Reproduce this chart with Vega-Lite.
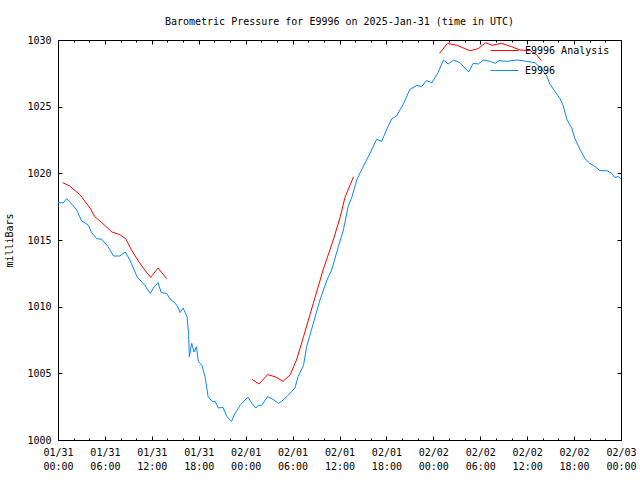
{
  "$schema": "https://vega.github.io/schema/vega-lite/v6.json",
  "width": 563,
  "height": 400,
  "autosize": {"type": "none"},
  "padding": {"left": 58, "top": 40, "right": 19, "bottom": 40},
  "background": "white",
  "config": {
    "font": "DejaVu Sans Mono",
    "view": {"stroke": "black", "strokeWidth": 1},
    "axis": {"labelFont": "DejaVu Sans Mono", "labelFontSize": 10, "labelColor": "black", "titleFont": "DejaVu Sans Mono", "titleFontSize": 10, "titleFontWeight": "normal", "titleColor": "black", "tickColor": "black", "tickWidth": 1, "domain": false, "grid": false, "zindex": 1}
  },
  "title": {"text": "Barometric Pressure for E9996 on 2025-Jan-31 (time in UTC)", "font": "DejaVu Sans Mono", "fontSize": 10, "fontWeight": "normal", "color": "black", "anchor": "middle", "offset": 8},
  "data": {"values": [
    {"h":0,"p":1017.8,"s":"E9996","g":1},
    {"h":0.3,"p":1017.8,"s":"E9996","g":1},
    {"h":0.7,"p":1017.8,"s":"E9996","g":1},
    {"h":1.1,"p":1018.1,"s":"E9996","g":1},
    {"h":1.75,"p":1017.7,"s":"E9996","g":1},
    {"h":2.4,"p":1017.25,"s":"E9996","g":1},
    {"h":3.0,"p":1016.45,"s":"E9996","g":1},
    {"h":3.9,"p":1016.1,"s":"E9996","g":1},
    {"h":4.3,"p":1015.55,"s":"E9996","g":1},
    {"h":4.95,"p":1015.1,"s":"E9996","g":1},
    {"h":5.6,"p":1015.05,"s":"E9996","g":1},
    {"h":6.4,"p":1014.5,"s":"E9996","g":1},
    {"h":7.1,"p":1013.8,"s":"E9996","g":1},
    {"h":7.9,"p":1013.8,"s":"E9996","g":1},
    {"h":8.6,"p":1014.1,"s":"E9996","g":1},
    {"h":9.2,"p":1013.5,"s":"E9996","g":1},
    {"h":10.1,"p":1012.25,"s":"E9996","g":1},
    {"h":11.1,"p":1011.6,"s":"E9996","g":1},
    {"h":11.8,"p":1011.0,"s":"E9996","g":1},
    {"h":12.2,"p":1011.4,"s":"E9996","g":1},
    {"h":12.8,"p":1011.8,"s":"E9996","g":1},
    {"h":13.2,"p":1011.05,"s":"E9996","g":1},
    {"h":13.9,"p":1011.0,"s":"E9996","g":1},
    {"h":14.3,"p":1010.6,"s":"E9996","g":1},
    {"h":15.0,"p":1010.25,"s":"E9996","g":1},
    {"h":15.4,"p":1009.9,"s":"E9996","g":1},
    {"h":15.6,"p":1009.55,"s":"E9996","g":1},
    {"h":16.0,"p":1009.9,"s":"E9996","g":1},
    {"h":16.5,"p":1009.25,"s":"E9996","g":1},
    {"h":16.7,"p":1008.0,"s":"E9996","g":1},
    {"h":16.8,"p":1006.25,"s":"E9996","g":1},
    {"h":17.1,"p":1007.25,"s":"E9996","g":1},
    {"h":17.4,"p":1006.6,"s":"E9996","g":1},
    {"h":17.7,"p":1007.0,"s":"E9996","g":1},
    {"h":17.95,"p":1005.9,"s":"E9996","g":1},
    {"h":18.4,"p":1005.6,"s":"E9996","g":1},
    {"h":18.8,"p":1004.75,"s":"E9996","g":1},
    {"h":19.2,"p":1003.25,"s":"E9996","g":1},
    {"h":19.7,"p":1002.9,"s":"E9996","g":1},
    {"h":20.1,"p":1002.9,"s":"E9996","g":1},
    {"h":20.5,"p":1002.4,"s":"E9996","g":1},
    {"h":21.1,"p":1002.45,"s":"E9996","g":1},
    {"h":21.6,"p":1001.75,"s":"E9996","g":1},
    {"h":22.2,"p":1001.4,"s":"E9996","g":1},
    {"h":22.6,"p":1001.95,"s":"E9996","g":1},
    {"h":23.3,"p":1002.6,"s":"E9996","g":1},
    {"h":23.9,"p":1003.0,"s":"E9996","g":1},
    {"h":24.3,"p":1003.2,"s":"E9996","g":1},
    {"h":24.8,"p":1002.75,"s":"E9996","g":1},
    {"h":25.3,"p":1002.4,"s":"E9996","g":1},
    {"h":25.6,"p":1002.6,"s":"E9996","g":1},
    {"h":26.05,"p":1002.6,"s":"E9996","g":1},
    {"h":26.8,"p":1003.25,"s":"E9996","g":1},
    {"h":27.5,"p":1003.05,"s":"E9996","g":1},
    {"h":28.2,"p":1002.75,"s":"E9996","g":1},
    {"h":28.6,"p":1002.9,"s":"E9996","g":1},
    {"h":29.25,"p":1003.25,"s":"E9996","g":1},
    {"h":29.9,"p":1003.65,"s":"E9996","g":1},
    {"h":30.3,"p":1003.9,"s":"E9996","g":1},
    {"h":30.7,"p":1004.75,"s":"E9996","g":1},
    {"h":31.4,"p":1005.6,"s":"E9996","g":1},
    {"h":31.8,"p":1007.0,"s":"E9996","g":1},
    {"h":32.65,"p":1008.75,"s":"E9996","g":1},
    {"h":33.5,"p":1010.5,"s":"E9996","g":1},
    {"h":34.4,"p":1012.0,"s":"E9996","g":1},
    {"h":35.0,"p":1012.75,"s":"E9996","g":1},
    {"h":35.85,"p":1014.5,"s":"E9996","g":1},
    {"h":36.5,"p":1015.75,"s":"E9996","g":1},
    {"h":37.1,"p":1017.5,"s":"E9996","g":1},
    {"h":37.6,"p":1018.25,"s":"E9996","g":1},
    {"h":38.2,"p":1019.5,"s":"E9996","g":1},
    {"h":38.6,"p":1020.0,"s":"E9996","g":1},
    {"h":39.9,"p":1021.5,"s":"E9996","g":1},
    {"h":40.75,"p":1022.55,"s":"E9996","g":1},
    {"h":41.4,"p":1022.4,"s":"E9996","g":1},
    {"h":42.0,"p":1023.25,"s":"E9996","g":1},
    {"h":42.7,"p":1024.1,"s":"E9996","g":1},
    {"h":43.3,"p":1024.3,"s":"E9996","g":1},
    {"h":44.2,"p":1025.25,"s":"E9996","g":1},
    {"h":45.0,"p":1026.3,"s":"E9996","g":1},
    {"h":45.9,"p":1026.6,"s":"E9996","g":1},
    {"h":46.5,"p":1026.5,"s":"E9996","g":1},
    {"h":47.1,"p":1026.95,"s":"E9996","g":1},
    {"h":47.8,"p":1026.8,"s":"E9996","g":1},
    {"h":48.6,"p":1027.55,"s":"E9996","g":1},
    {"h":49.3,"p":1028.5,"s":"E9996","g":1},
    {"h":49.9,"p":1028.2,"s":"E9996","g":1},
    {"h":50.6,"p":1028.5,"s":"E9996","g":1},
    {"h":51.4,"p":1028.3,"s":"E9996","g":1},
    {"h":52.5,"p":1027.6,"s":"E9996","g":1},
    {"h":53.1,"p":1028.25,"s":"E9996","g":1},
    {"h":53.75,"p":1028.2,"s":"E9996","g":1},
    {"h":54.4,"p":1028.5,"s":"E9996","g":1},
    {"h":55.25,"p":1028.4,"s":"E9996","g":1},
    {"h":55.9,"p":1028.25,"s":"E9996","g":1},
    {"h":56.4,"p":1028.45,"s":"E9996","g":1},
    {"h":57.4,"p":1028.4,"s":"E9996","g":1},
    {"h":58.7,"p":1028.5,"s":"E9996","g":1},
    {"h":59.9,"p":1028.4,"s":"E9996","g":1},
    {"h":61.0,"p":1028.3,"s":"E9996","g":1},
    {"h":61.9,"p":1027.8,"s":"E9996","g":1},
    {"h":62.5,"p":1027.3,"s":"E9996","g":1},
    {"h":62.9,"p":1026.7,"s":"E9996","g":1},
    {"h":63.6,"p":1026.1,"s":"E9996","g":1},
    {"h":64.2,"p":1025.6,"s":"E9996","g":1},
    {"h":64.6,"p":1025.1,"s":"E9996","g":1},
    {"h":65.1,"p":1024.0,"s":"E9996","g":1},
    {"h":65.7,"p":1023.4,"s":"E9996","g":1},
    {"h":66.1,"p":1022.6,"s":"E9996","g":1},
    {"h":66.8,"p":1021.75,"s":"E9996","g":1},
    {"h":67.4,"p":1021.1,"s":"E9996","g":1},
    {"h":68.0,"p":1020.75,"s":"E9996","g":1},
    {"h":68.7,"p":1020.5,"s":"E9996","g":1},
    {"h":69.3,"p":1020.2,"s":"E9996","g":1},
    {"h":70.2,"p":1020.2,"s":"E9996","g":1},
    {"h":70.8,"p":1020.0,"s":"E9996","g":1},
    {"h":71.2,"p":1019.7,"s":"E9996","g":1},
    {"h":71.7,"p":1019.75,"s":"E9996","g":1},
    {"h":72.0,"p":1019.6,"s":"E9996","g":1},
    {"h":0.6,"p":1019.3,"s":"E9996 Analysis","g":1},
    {"h":1.5,"p":1019.05,"s":"E9996 Analysis","g":1},
    {"h":2.2,"p":1018.7,"s":"E9996 Analysis","g":1},
    {"h":2.8,"p":1018.4,"s":"E9996 Analysis","g":1},
    {"h":3.45,"p":1017.9,"s":"E9996 Analysis","g":1},
    {"h":4.1,"p":1017.4,"s":"E9996 Analysis","g":1},
    {"h":4.7,"p":1016.75,"s":"E9996 Analysis","g":1},
    {"h":5.6,"p":1016.3,"s":"E9996 Analysis","g":1},
    {"h":6.9,"p":1015.6,"s":"E9996 Analysis","g":1},
    {"h":7.9,"p":1015.4,"s":"E9996 Analysis","g":1},
    {"h":8.65,"p":1015.1,"s":"E9996 Analysis","g":1},
    {"h":9.4,"p":1014.25,"s":"E9996 Analysis","g":1},
    {"h":10.3,"p":1013.4,"s":"E9996 Analysis","g":1},
    {"h":11.1,"p":1012.75,"s":"E9996 Analysis","g":1},
    {"h":11.85,"p":1012.2,"s":"E9996 Analysis","g":1},
    {"h":12.8,"p":1012.9,"s":"E9996 Analysis","g":1},
    {"h":13.9,"p":1012.1,"s":"E9996 Analysis","g":1},
    {"h":24.8,"p":1004.55,"s":"E9996 Analysis","g":2},
    {"h":25.7,"p":1004.2,"s":"E9996 Analysis","g":2},
    {"h":26.8,"p":1004.9,"s":"E9996 Analysis","g":2},
    {"h":27.75,"p":1004.75,"s":"E9996 Analysis","g":2},
    {"h":28.8,"p":1004.4,"s":"E9996 Analysis","g":2},
    {"h":29.7,"p":1004.9,"s":"E9996 Analysis","g":2},
    {"h":30.5,"p":1006.0,"s":"E9996 Analysis","g":2},
    {"h":31.4,"p":1007.75,"s":"E9996 Analysis","g":2},
    {"h":32.65,"p":1010.25,"s":"E9996 Analysis","g":2},
    {"h":33.9,"p":1012.75,"s":"E9996 Analysis","g":2},
    {"h":35.2,"p":1015.0,"s":"E9996 Analysis","g":2},
    {"h":36.1,"p":1016.75,"s":"E9996 Analysis","g":2},
    {"h":36.7,"p":1018.2,"s":"E9996 Analysis","g":2},
    {"h":37.8,"p":1019.75,"s":"E9996 Analysis","g":2},
    {"h":48.8,"p":1029.0,"s":"E9996 Analysis","g":3},
    {"h":49.8,"p":1029.75,"s":"E9996 Analysis","g":3},
    {"h":51.0,"p":1029.6,"s":"E9996 Analysis","g":3},
    {"h":52.7,"p":1029.2,"s":"E9996 Analysis","g":3},
    {"h":53.75,"p":1029.35,"s":"E9996 Analysis","g":3},
    {"h":54.7,"p":1029.8,"s":"E9996 Analysis","g":3},
    {"h":55.5,"p":1029.6,"s":"E9996 Analysis","g":3},
    {"h":56.7,"p":1029.75,"s":"E9996 Analysis","g":3},
    {"h":58.0,"p":1029.5,"s":"E9996 Analysis","g":3},
    {"h":59.1,"p":1029.25,"s":"E9996 Analysis","g":3},
    {"h":60.4,"p":1029.2,"s":"E9996 Analysis","g":3},
    {"h":61.2,"p":1028.9,"s":"E9996 Analysis","g":3},
    {"h":61.8,"p":1028.45,"s":"E9996 Analysis","g":3}
  ]},
  "layer": [
    {
      "mark": {"type": "line", "strokeWidth": 1},
      "encoding": {
        "x": {"field": "h", "type": "quantitative",
          "scale": {"domain": [0, 72], "nice": false, "zero": false},
          "axis": {"orient": "bottom", "title": null, "values": [0, 6, 12, 18, 24, 30, 36, 42, 48, 54, 60, 66, 72],
            "offset": -4, "tickSize": 4,
            "labelExpr": "[datum.value < 24 ? '01/31' : datum.value < 48 ? '02/01' : datum.value < 72 ? '02/02' : '02/03', (datum.value % 24 < 10 ? '0' : '') + (datum.value % 24) + ':00']",
            "labelPadding": 7, "labelOverlap": false, "labelFlush": false, "labelLineHeight": 14}},
        "y": {"field": "p", "type": "quantitative",
          "scale": {"domain": [1000, 1030], "nice": false, "zero": false},
          "axis": {"orient": "left", "title": "milliBars", "format": "d", "values": [1000, 1005, 1010, 1015, 1020, 1025, 1030], "offset": -4, "tickSize": 4, "labelPadding": 7, "titlePadding": 12}},
        "color": {"field": "s", "type": "nominal",
          "scale": {"domain": ["E9996 Analysis", "E9996"], "range": ["#ff0000", "#0a86ff"]},
          "legend": {"title": null, "orient": "none", "legendX": 432, "legendY": -4, "symbolType": "stroke", "symbolSize": 784, "symbolStrokeWidth": 1, "labelFont": "DejaVu Sans Mono", "labelFontSize": 10, "labelColor": "black", "rowPadding": -22, "labelOffset": 6, "padding": 0}},
        "detail": {"field": "g", "type": "nominal"}
      }
    },
    {
      "mark": {"type": "line", "opacity": 0},
      "encoding": {
        "x": {"field": "h", "type": "quantitative",
          "axis": {"orient": "top", "title": null, "labels": false, "values": [0, 6, 12, 18, 24, 30, 36, 42, 48, 54, 60, 66, 72], "offset": -4, "tickSize": 4}},
        "y": {"field": "p", "type": "quantitative",
          "axis": {"orient": "right", "title": null, "labels": false, "values": [1000, 1005, 1010, 1015, 1020, 1025, 1030], "offset": -4, "tickSize": 4}}
      }
    },
    {
      "mark": {"type": "line", "opacity": 0},
      "encoding": {
        "x": {"field": "h", "type": "quantitative",
          "axis": {"orient": "bottom", "title": null, "labels": false, "values": [2, 4, 8, 10, 14, 16, 20, 22, 26, 28, 32, 34, 38, 40, 44, 46, 50, 52, 56, 58, 62, 64, 68, 70], "offset": -2, "tickSize": 2}},
        "y": {"field": "p", "type": "quantitative", "axis": null}
      }
    },
    {
      "mark": {"type": "line", "opacity": 0},
      "encoding": {
        "x": {"field": "h", "type": "quantitative",
          "axis": {"orient": "top", "title": null, "labels": false, "values": [2, 4, 8, 10, 14, 16, 20, 22, 26, 28, 32, 34, 38, 40, 44, 46, 50, 52, 56, 58, 62, 64, 68, 70], "offset": -2, "tickSize": 2}},
        "y": {"field": "p", "type": "quantitative", "axis": null}
      }
    }
  ],
  "resolve": {"axis": {"x": "independent", "y": "independent"}}
}
